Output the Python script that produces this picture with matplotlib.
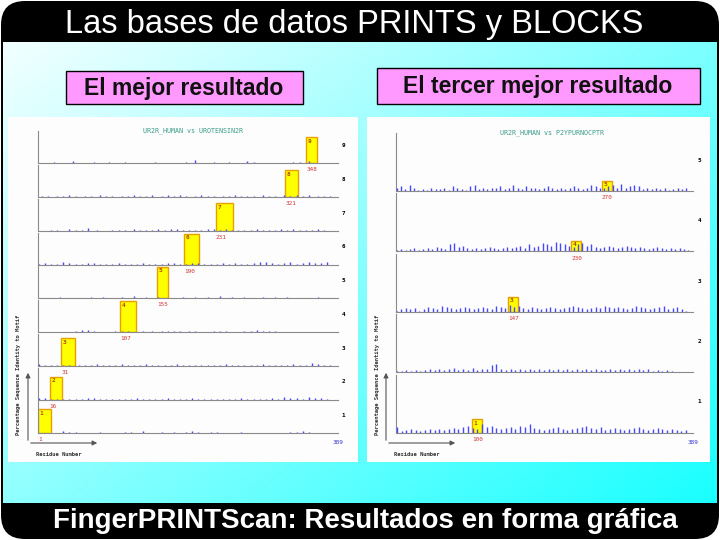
import numpy as np
import matplotlib.pyplot as plt
from matplotlib.patches import FancyBboxPatch, Rectangle

W, H = 720, 540

slide_title = "Las bases de datos PRINTS y BLOCKS"
slide_footer = "FingerPRINTScan: Resultados en forma gráfica"
left_caption = "El mejor resultado"
right_caption = "El tercer mejor resultado"

seq_length = 389

# best hit: UR2R_HUMAN vs UROTENSIN2R, motifs top to bottom
left_title = "UR2R_HUMAN vs UROTENSIN2R"
left_motifs = [9, 8, 7, 6, 5, 4, 3, 2, 1]
left_starts = [348, 321, 231, 190, 155, 107, 31, 16, 1]
left_widths = [14, 16, 22, 19, 14, 21, 18, 16, 17]
left_heights = [81, 84, 86, 97, 98, 96, 86, 72, 75]
# background identity spikes, one digit per sampled residue, spread over the sequence
left_noise = [
	"1010020101030101002010120001201001101020101001012004010112010120101030201011001010120201301001011",
	"0101001010201001010020101001010201010200103010201001020101001010201010100201010020103010200101010",
	"0000101000201010300100001010100201010102010202010101010202010201010101020101010201020101010201000",
	"1020101030201010202010101020101010201010102020101020201010102010201010203030201020301020302020300",
	"0101010201010101020102010102010301020102010101020102010201030102010201010201020102010101010201010",
	"0000000000001030201000000101010000100100101010100101000001010100000101030101010000000000000000000",
	"2010101010100101010201010102010101020101010102010101010101010201010101010201010101020101040201010",
	"2020101010101010202010101010101020101010102010101020101010101010102010101010201030202010302020100",
	"0000101030202010101020101010202010301010201020102030201020201010102010101010101010202030201010100",
]

# third hit: UR2R_HUMAN vs P2YPURNOCPTR
right_title = "UR2R_HUMAN vs P2YPURNOCPTR"
right_motifs = [5, 4, 3, 2, 1]
right_starts = [270, 230, 147, None, 100]
right_widths = [13, 13, 13, 0, 13]
right_heights = [18, 18, 26, 0, 23]
right_noise = [
	"3040205030102010302020301040302010405020302030304020305030204030302030403020302030403020305040303040503060304050402030203020301020302030",
	"1020102030102030204030206070405030203020304030203040304050306040507060508070605040607050604030405040304050403040302030403020302030201",
	"1020302030102040302050403020304030203040302050403060405030204030203040302030405040302030403050403040302030504030203040502030402010",
	"1010201020102030203020304020302040203030607030203020302030203020302030203020302030203020203020302030203020301020102010000000",
	"5010203020102030203020304030506040307050604030405030605070403020304050302030405060403050203040302030405030203040302030201020",
]


def rect(x0, y0, x1, y1):
	return [x0 / W, 1 - y1 / H, (x1 - x0) / W, (y1 - y0) / H]


def draw_strip(fig, box, motif, start, width, height, noise, noise_scale):
	ax = fig.add_axes(box)
	ax.set_xlim(1, seq_length)
	ax.set_ylim(0, 100)
	ax.patch.set_alpha(0)
	for s in ['top', 'right']:
		ax.spines[s].set_visible(False)
	for s in ['left', 'bottom']:
		ax.spines[s].set_color('#8a8a8a')
		ax.spines[s].set_linewidth(0.8)
	ax.set_xticks([])
	ax.set_yticks([])
	pos = np.linspace(2, seq_length - 6, len(noise))
	vals = np.array([int(c) for c in noise]) * noise_scale
	ax.vlines(pos, 0, vals, color='#4848ff', lw=1.0, zorder=3)
	if start is not None:
		ax.bar(start, height, width=width, align='edge', color='#ffff00',
			edgecolor='#e8a000', lw=1.0, zorder=2)
		ax.annotate(str(motif), (start, height), xytext=(1.2, -1), textcoords='offset points',
			ha='left', va='top', fontsize=4.5, color='#b04a00', family='DejaVu Sans Mono', fontweight='bold')
		ax.annotate(str(start), (start, 0), xytext=(0, -3), textcoords='offset points',
			ha='left', va='top', fontsize=4.3, color='#d03838', family='DejaVu Sans Mono')
	return ax


fig = plt.figure(figsize=(7.2, 5.4), dpi=100)
bg = fig.add_axes([0, 0, 1, 1])
bg.axis('off')

bg.add_patch(FancyBboxPatch((1, 1), W - 2, H - 2, boxstyle="round,pad=0,rounding_size=24",
	fc='black', ec='none', zorder=0.5))

gx, gy = np.meshgrid(np.linspace(0, 1, 200), np.linspace(0, 1, 150))
t = (gx * 0.55 + gy * 0.45)
grad = np.dstack([0.95 - 0.85 * t, np.ones_like(t), np.ones_like(t)])
bg.imshow(np.clip(grad, 0, 1), extent=(3, W - 3, 503, 42), aspect='auto',
	interpolation='bilinear', zorder=1)
bg.set_xlim(0, W)
bg.set_ylim(H, 0)

bg.text(354, 24, slide_title, color='white', fontsize=23.5, ha='center', va='center',
	family='Liberation Sans', zorder=3)
bg.text(365, 521, slide_footer, color='white', fontsize=20, ha='center', va='center',
	family='Liberation Sans', fontweight='bold', zorder=3)

bg.add_patch(Rectangle((66, 71), 237, 33, fc='#ff99ff', ec='black', lw=1, zorder=2))
bg.add_patch(Rectangle((377, 68), 323, 36, fc='#ff99ff', ec='black', lw=1, zorder=2))
bg.text(184, 88, left_caption, fontsize=16.5, ha='center', va='center', family='Liberation Sans',
	fontweight='bold', color='#111111', zorder=3)
bg.text(538, 87, right_caption, fontsize=16.5, ha='center', va='center', family='Liberation Sans',
	fontweight='bold', color='#111111', zorder=3)

# white graph panels
bg.add_patch(Rectangle((8, 117), 350, 345, fc='#fdfdfd', ec='none', zorder=2))
bg.add_patch(Rectangle((367, 117), 343, 345, fc='#fdfdfd', ec='none', zorder=2))

mono = 'DejaVu Sans Mono'
for x_axis, x_end in [(28, 100), (386, 458)]:
	bg.annotate('', xy=(x_axis, 370), xytext=(x_axis, 443),
		arrowprops=dict(arrowstyle='-|>', color='#555555', lw=0.8, mutation_scale=7), zorder=3)
	bg.annotate('', xy=(x_end, 443), xytext=(x_axis, 443),
		arrowprops=dict(arrowstyle='-|>', color='#555555', lw=0.8, mutation_scale=7), zorder=3)
	bg.text(x_axis - 9, 375, "Percentage Sequence Identity to Motif", rotation=90, ha='center', va='center',
		fontsize=4, family=mono, fontweight='bold', color='#333333', zorder=3)
	bg.text(x_axis + 8, 454, "Residue Number", ha='left', va='center',
		fontsize=4, family=mono, fontweight='bold', color='#333333', zorder=3)

# left graph
for i, m in enumerate(left_motifs):
	yb = 163.3 + 33.75 * i
	ax = draw_strip(fig, rect(38, yb - 32, 338, yb), m, left_starts[i], left_widths[i],
		left_heights[i], left_noise[i], 2.5)
	ax.text(1.012, 0.55, str(m), transform=ax.transAxes, fontsize=4.3, fontweight='bold',
		family=mono, va='center', ha='left')
fig.text(193 / W, 1 - 131 / H, left_title, color='#3a9a88', fontsize=4.8, family=mono, ha='center', va='center')
fig.text(338 / W, 1 - 443 / H, str(seq_length), color='#3a3ad0', fontsize=4.3, family=mono, ha='center', va='center')

# right graph
for i, m in enumerate(right_motifs):
	yb = 191 + 60.4 * i
	ax = draw_strip(fig, rect(396, yb - 58, 693, yb), m, right_starts[i], right_widths[i],
		right_heights[i], right_noise[i], 2.0)
	ax.text(1.015, 0.53, str(m), transform=ax.transAxes, fontsize=4.3, fontweight='bold',
		family=mono, va='center', ha='left')
fig.text(552 / W, 1 - 133 / H, right_title, color='#3a9a88', fontsize=4.8, family=mono, ha='center', va='center')
fig.text(693 / W, 1 - 443 / H, str(seq_length), color='#3a3ad0', fontsize=4.3, family=mono, ha='center', va='center')

fig.savefig('out.png', dpi=100)
